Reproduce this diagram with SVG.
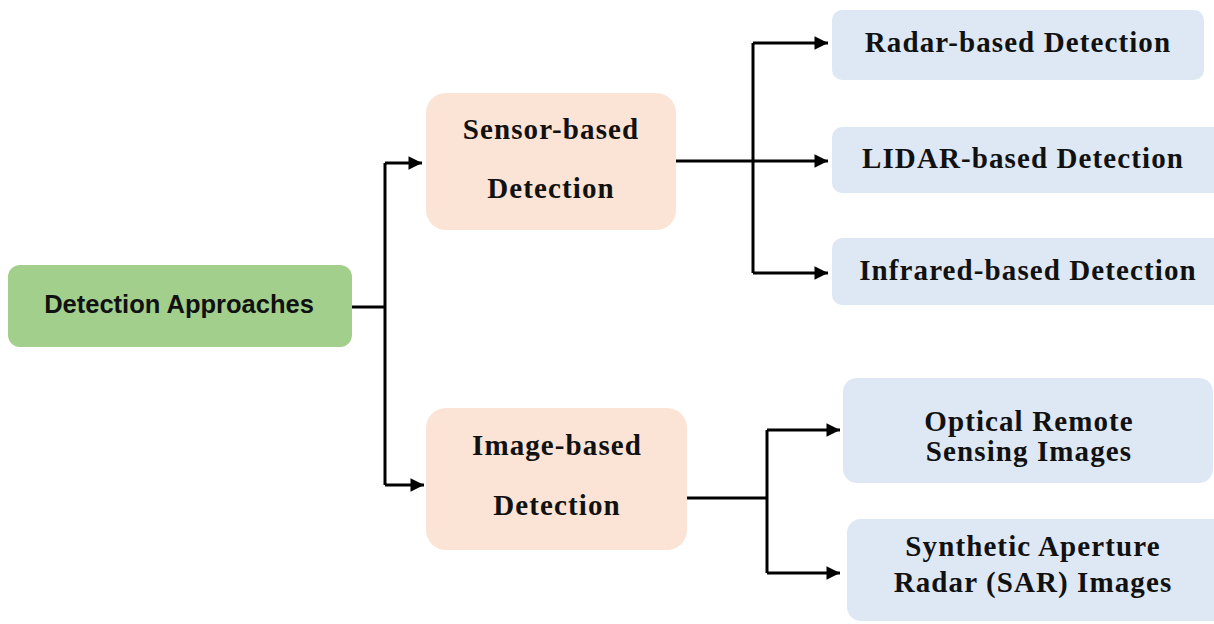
<svg xmlns="http://www.w3.org/2000/svg" width="1214" height="624" viewBox="0 0 1214 624">
<defs>
<marker id="ah" viewBox="0 0 10 10" refX="10" refY="5" markerWidth="5.3" markerHeight="4.5" markerUnits="strokeWidth" orient="auto">
<path d="M0,0 L10,5 L0,10 z" fill="#000"/>
</marker>
<style>
.root{fill:#A3CF8C}
.mid{fill:#FBE4D5}
.leaf{fill:#DEE8F4}
.t1{font-family:"Liberation Sans",Arial,sans-serif;font-weight:bold;font-size:25.5px;fill:#111;text-anchor:middle}
.t2{font-family:"Liberation Serif","Times New Roman",serif;font-weight:bold;font-size:29px;letter-spacing:1.1px;fill:#111;text-anchor:middle}
.c{fill:none;stroke:#000;stroke-width:3}
</style>
</defs>
<rect width="1214" height="624" fill="#fff"/>
<g id="connectors">
<path class="c" d="M352,307 H385"/>
<path class="c" d="M385,163 V485"/>
<path class="c" d="M385,163 H422" marker-end="url(#ah)"/>
<path class="c" d="M385,485 H424" marker-end="url(#ah)"/>
<path class="c" d="M676,161 H828" marker-end="url(#ah)"/>
<path class="c" d="M753,43 V273"/>
<path class="c" d="M753,43 H828" marker-end="url(#ah)"/>
<path class="c" d="M753,273 H828" marker-end="url(#ah)"/>
<path class="c" d="M687,498 H767"/>
<path class="c" d="M767,430 V573"/>
<path class="c" d="M767,430 H840" marker-end="url(#ah)"/>
<path class="c" d="M767,573 H840" marker-end="url(#ah)"/>
</g>
<g id="root">
<rect class="root" x="8" y="265" width="344" height="82" rx="12"/>
<text class="t1" x="179" y="313">Detection Approaches</text>
</g>
<g id="sensor">
<rect class="mid" x="426" y="93" width="250" height="137" rx="20"/>
<text class="t2" x="551" y="139">Sensor-based</text>
<text class="t2" x="551" y="198">Detection</text>
</g>
<g id="image">
<rect class="mid" x="426" y="408" width="261" height="142" rx="20"/>
<text class="t2" x="557" y="455">Image-based</text>
<text class="t2" x="557" y="515">Detection</text>
</g>
<g id="radar">
<rect class="leaf" x="832" y="10" width="372" height="70" rx="10"/>
<text class="t2" x="1018" y="52">Radar-based Detection</text>
</g>
<g id="lidar">
<rect class="leaf" x="832" y="127" width="392" height="66" rx="10"/>
<text class="t2" x="1023" y="168">LIDAR-based Detection</text>
</g>
<g id="infrared">
<rect class="leaf" x="832" y="238" width="392" height="67" rx="10"/>
<text class="t2" x="1028" y="280">Infrared-based Detection</text>
</g>
<g id="optical">
<rect class="leaf" x="843" y="378" width="370" height="105" rx="14"/>
<text class="t2" x="1029" y="431">Optical Remote</text>
<text class="t2" x="1029" y="461">Sensing Images</text>
</g>
<g id="sar">
<rect class="leaf" x="847" y="519" width="380" height="102" rx="14"/>
<text class="t2" x="1033" y="556">Synthetic Aperture</text>
<text class="t2" x="1033" y="592">Radar (SAR) Images</text>
</g>
</svg>
